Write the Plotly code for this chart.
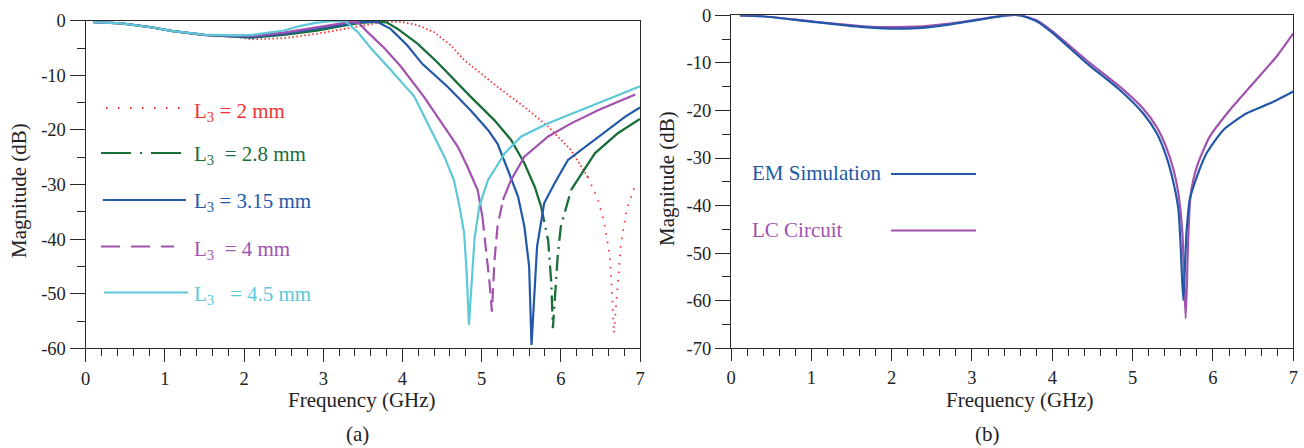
import numpy as np
import plotly.graph_objects as go

W, H = 1304, 448

# ---------------- data: panel (a) ----------------
f_2mm = [0.1, 0.45, 0.8, 1.1, 1.5, 1.9, 2.1, 2.5, 2.92, 3.26, 3.56, 3.77, 3.98, 4.19, 4.40, 4.61, 4.78,
         5.20, 5.54, 5.84, 6.13, 6.34, 6.47, 6.55, 6.62, 6.65, 6.67, 6.72, 6.76, 6.83, 6.94]
db_2mm = [-0.25, -0.5, -1.15, -1.9, -2.7, -3.0, -3.4, -3.2, -2.4, -1.5, -0.8, -0.2, -0.2, -0.8, -2.1, -4.5, -7.2,
          -12.1, -15.8, -19.4, -23.7, -28.6, -32.8, -37.1, -43.2, -51.0, -57.3, -48.1, -40.8, -34.7, -30.1]

f_28mm = [0.1, 0.45, 0.8, 1.1, 1.5, 1.9, 2.1, 2.5, 2.92, 3.26, 3.47, 3.68, 3.8, 3.94, 4.19, 4.44, 4.57, 4.86,
          5.16, 5.37, 5.54, 5.67, 5.75, 5.84, 5.88, 5.90, 5.96, 6.00, 6.13, 6.43, 6.72, 7.0]
db_28mm = [-0.25, -0.5, -1.15, -1.9, -2.6, -2.9, -3.1, -2.6, -1.8, -0.9, -0.4, -0.2, -0.3, -1.5, -4.2, -7.6, -9.6, -13.9,
           -18.2, -21.8, -26.1, -30.4, -34.0, -40.2, -48.1, -56.3, -43.2, -37.7, -31.0, -24.3, -20.6, -18.0]

f_315mm = [0.1, 0.45, 0.8, 1.1, 1.5, 1.9, 2.1, 2.5, 2.92, 3.26, 3.47, 3.68, 3.85, 4.06, 4.25, 4.57, 4.86, 5.08,
           5.20, 5.33, 5.46, 5.54, 5.60, 5.63, 5.67, 5.70, 5.79, 5.92, 6.09, 6.43, 6.81, 7.0]
db_315mm = [-0.25, -0.5, -1.15, -1.9, -2.6, -2.85, -3.0, -2.4, -1.5, -0.7, -0.2, -0.2, -1.5, -4.5, -7.9, -12.1, -16.4, -20.0,
            -22.5, -27.3, -32.2, -37.7, -45.0, -59.4, -48.1, -41.4, -33.4, -29.8, -25.5, -21.8, -17.6, -15.9]

f_4mm = [0.1, 0.45, 0.8, 1.1, 1.5, 1.9, 2.1, 2.5, 2.92, 3.22, 3.35, 3.45, 3.56, 3.77, 3.98, 4.27, 4.53, 4.70,
         4.82, 4.95, 5.01, 5.05, 5.10, 5.13, 5.16, 5.20, 5.27, 5.37, 5.54, 5.84, 6.13, 6.47, 6.94]
db_4mm = [-0.25, -0.5, -1.15, -1.9, -2.6, -2.8, -2.8, -2.2, -1.2, -0.4, -0.2, -0.4, -2.1, -5.0, -8.4, -13.9, -19.4, -23.1,
          -26.7, -31.0, -35.9, -40.8, -48.0, -53.3, -44.4, -37.7, -32.8, -29.2, -24.9, -21.2, -18.8, -16.4, -13.5]

f_45mm = [0.1, 0.45, 0.8, 1.1, 1.5, 1.9, 2.1, 2.5, 2.7, 2.9, 3.1, 3.28, 3.43, 3.6, 3.85, 4.15, 4.36, 4.53,
          4.65, 4.72, 4.78, 4.81, 4.84, 4.88, 4.91, 4.97, 5.08, 5.29, 5.5, 5.84, 6.26, 6.68, 7.0]
db_45mm = [-0.25, -0.5, -1.15, -1.9, -2.55, -2.7, -2.6, -1.8, -1.0, -0.4, -0.1, -0.1, -2.0, -5.0, -9.0, -13.9, -20.0, -24.9,
           -29.2, -34.0, -39.0, -46.0, -55.7, -46.0, -40.0, -34.0, -29.2, -24.3, -21.2, -18.8, -16.4, -13.9, -12.0]

labels_a = ["L<sub>3</sub> = 2 mm", "L<sub>3</sub>  = 2.8 mm", "L<sub>3</sub> = 3.15 mm",
            "L<sub>3</sub>  = 4 mm", "L<sub>3</sub>   = 4.5 mm"]

# ---------------- data: panel (b) ----------------
f_em = [0.11, 0.4, 1.02, 1.65, 1.98, 2.31, 2.69, 3.1, 3.43, 3.6, 3.81, 4.01, 4.43, 4.84, 5.13, 5.30, 5.42, 5.51,
        5.57, 5.60, 5.63, 5.67, 5.71, 5.80, 5.92, 6.13, 6.42, 6.71, 7.0]
db_em = [0, -0.2, -1.4, -2.5, -2.8, -2.7, -2.0, -0.9, 0, 0, -1.3, -3.8, -10.1, -15.7, -20.6, -24.8, -29.7, -35.3,
         -40.9, -49.3, -59.9, -45.8, -38.8, -33.9, -29.0, -24.1, -20.6, -18.5, -16.0]

f_lc = [0.11, 0.4, 1.02, 1.65, 1.98, 2.31, 2.69, 3.1, 3.43, 3.6, 3.81, 4.01, 4.43, 4.84, 5.13, 5.30, 5.42, 5.51,
        5.57, 5.62, 5.66, 5.69, 5.72, 5.80, 5.96, 6.21, 6.50, 6.79, 7.0]
db_lc = [0, -0.2, -1.3, -2.3, -2.5, -2.4, -1.8, -0.8, 0, 0, -1.1, -3.5, -9.5, -15.0, -19.6, -23.5, -27.8, -32.5,
         -37.5, -46.0, -63.7, -48.0, -38.0, -31.8, -25.5, -19.9, -14.3, -8.7, -3.8]

labels_b = ["EM Simulation", "LC Circuit"]

# ticks
x_ticks = [0, 1, 2, 3, 4, 5, 6, 7]
x_ticktext = ["0", "1", "2", "3", "4", "5", "6", "7"]
ya_ticks = [0, -10, -20, -30, -40, -50, -60]
ya_ticktext = ["0", "-10", "-20", "-30", "-40", "-50", "-60"]
yb_ticks = [0, -10, -20, -30, -40, -50, -60, -70]
yb_ticktext = ["0", "-10", "-20", "-30", "-40", "-50", "-60", "-70"]

# ---------------- styling ----------------
C_RED = "#ee3434"
C_GREEN = "#1a6e38"
C_BLUE = "#2258a8"
C_PURPLE = "#a052ae"
C_CYAN = "#5cc8d8"
FONT = "Liberation Serif"
AX = "#2a2a2a"


def px(x):
    return x / W


def py(y):
    return 1 - y / H


def split(f, d, thr):
    """Return (solid_y, dip_y) arrays: dip part where values fall below thr."""
    d = np.asarray(d, dtype=float)
    idx = np.where(d < thr)[0]
    a, b = idx[0], min(idx[-1] + 1, len(d) - 1)
    solid = d.copy()
    solid[a + 1:b] = np.nan
    dip = np.full_like(d, np.nan)
    dip[a:b + 1] = d[a:b + 1]
    return solid, dip


fig = go.Figure()

# panel (a) curves
red_up, red_dip = split(f_2mm, db_2mm, -25)
fig.add_trace(go.Scatter(x=f_2mm, y=red_up, mode="lines", xaxis="x", yaxis="y",
                         line=dict(color=C_RED, width=1.8, dash="1.5px,2.5px"), showlegend=False))
fig.add_trace(go.Scatter(x=f_2mm, y=red_dip, mode="lines", xaxis="x", yaxis="y",
                         line=dict(color=C_RED, width=1.8, dash="1.5px,7px"), showlegend=False))

g_solid, g_dip = split(f_28mm, db_28mm, -33)
fig.add_trace(go.Scatter(x=f_28mm, y=g_solid, mode="lines", xaxis="x", yaxis="y",
                         line=dict(color=C_GREEN, width=2.3), showlegend=False))
fig.add_trace(go.Scatter(x=f_28mm, y=g_dip, mode="lines", xaxis="x", yaxis="y",
                         line=dict(color=C_GREEN, width=2.3, dash="16px,6px,2px,6px"), showlegend=False))

fig.add_trace(go.Scatter(x=f_315mm, y=db_315mm, mode="lines", xaxis="x", yaxis="y",
                         line=dict(color=C_BLUE, width=2.2), showlegend=False))

p_solid, p_dip = split(f_4mm, db_4mm, -35)
fig.add_trace(go.Scatter(x=f_4mm, y=p_solid, mode="lines", xaxis="x", yaxis="y",
                         line=dict(color=C_PURPLE, width=2.2), showlegend=False))
fig.add_trace(go.Scatter(x=f_4mm, y=p_dip, mode="lines", xaxis="x", yaxis="y",
                         line=dict(color=C_PURPLE, width=2.2, dash="14px,7px"), showlegend=False))

fig.add_trace(go.Scatter(x=f_45mm, y=db_45mm, mode="lines", xaxis="x", yaxis="y",
                         line=dict(color=C_CYAN, width=2.2), showlegend=False))

# panel (b) curves
fig.add_trace(go.Scatter(x=f_lc, y=db_lc, mode="lines", xaxis="x2", yaxis="y2",
                         line=dict(color=C_PURPLE, width=2.2, shape="spline", smoothing=0.6), showlegend=False))
fig.add_trace(go.Scatter(x=f_em, y=db_em, mode="lines", xaxis="x2", yaxis="y2",
                         line=dict(color=C_BLUE, width=2.2, shape="spline", smoothing=0.6), showlegend=False))

tickfont = dict(family=FONT, size=18.5, color="#222")
common_x = dict(range=[0, 7], tickmode="array", tickvals=x_ticks, ticktext=x_ticktext,
                ticks="outside", tickcolor=AX, tickwidth=1.2, showline=True, linecolor=AX,
                linewidth=1.3, mirror=True, showgrid=False, zeroline=False, tickfont=tickfont,
                automargin=False,
                minor=dict(tickmode="linear", tick0=0, dtick=0.2, ticks="outside", ticklen=7,
                           tickcolor=AX, tickwidth=1.2))
common_y = dict(tickmode="array", ticks="outside", tickcolor=AX, tickwidth=1.2, ticklen=15,
                showline=True, linecolor=AX, linewidth=1.3, mirror=True, showgrid=False,
                zeroline=False, tickfont=tickfont, automargin=False,
                minor=dict(tickmode="linear", tick0=0, dtick=5, ticks="outside", ticklen=8,
                           tickcolor=AX, tickwidth=1.2))

fig.update_layout(
    width=W, height=H, margin=dict(l=0, r=0, t=0, b=0, autoexpand=False),
    paper_bgcolor="white", plot_bgcolor="white", showlegend=False,
    xaxis=dict(domain=[px(85.7), px(640)], anchor="y", ticklen=13, **common_x),
    yaxis=dict(domain=[py(348.3), py(20.7)], anchor="x", range=[-60, 0],
               tickvals=ya_ticks, ticktext=ya_ticktext, **common_y),
    xaxis2=dict(domain=[px(731), px(1293.3)], anchor="y2", ticklen=12, **common_x),
    yaxis2=dict(domain=[py(348.3), py(15.3)], anchor="x2", range=[-70, 0],
                tickvals=yb_ticks, ticktext=yb_ticktext, **common_y),
)

annots = []
tfont = dict(family=FONT, size=21, color="#222")
annots.append(dict(text="Frequency (GHz)", x=px(362), y=py(400), xref="paper", yref="paper",
                   showarrow=False, font=tfont, xanchor="center", yanchor="middle"))
annots.append(dict(text="Frequency (GHz)", x=px(1020), y=py(400), xref="paper", yref="paper",
                   showarrow=False, font=tfont, xanchor="center", yanchor="middle"))
annots.append(dict(text="(a)", x=px(357.5), y=py(434), xref="paper", yref="paper",
                   showarrow=False, font=tfont, xanchor="center", yanchor="middle"))
annots.append(dict(text="(b)", x=px(987), y=py(434), xref="paper", yref="paper",
                   showarrow=False, font=tfont, xanchor="center", yanchor="middle"))
annots.append(dict(text="Magnitude (dB)", x=px(19), y=py(191), xref="paper", yref="paper",
                   showarrow=False, font=tfont, textangle=-90, xanchor="center", yanchor="middle"))
annots.append(dict(text="Magnitude (dB)", x=px(667), y=py(179), xref="paper", yref="paper",
                   showarrow=False, font=tfont, textangle=-90, xanchor="center", yanchor="middle"))

# legend (a)
leg_a_colors = [C_RED, C_GREEN, C_BLUE, C_PURPLE, C_CYAN]
leg_a_dash = ["1.5px,10.5px", "30px,9px,2px,9px", "solid", "19px,11px", "solid"]
leg_a_liney = [108, 153, 200, 246.5, 292.5]
leg_a_linex = [(106, 188), (101, 184), (103, 186), (101, 174), (104, 188)]
leg_a_texty = [112, 154.5, 202, 249.5, 295]
shapes = []
for lab, col, dsh, ly, (x0, x1), ty in zip(labels_a, leg_a_colors, leg_a_dash, leg_a_liney,
                                            leg_a_linex, leg_a_texty):
    shapes.append(dict(type="line", xref="paper", yref="paper", x0=px(x0), x1=px(x1),
                       y0=py(ly), y1=py(ly), line=dict(color=col, width=2, dash=dsh)))
    annots.append(dict(text=lab, x=px(191.5), y=py(ty), xref="paper", yref="paper", showarrow=False,
                       font=dict(family=FONT, size=21, color=col), xanchor="left", yanchor="middle"))

# legend (b)
leg_b_colors = [C_BLUE, C_PURPLE]
leg_b_y = [174, 230.5]
for lab, col, ly in zip(labels_b, leg_b_colors, leg_b_y):
    shapes.append(dict(type="line", xref="paper", yref="paper", x0=px(891), x1=px(976),
                       y0=py(ly), y1=py(ly), line=dict(color=col, width=2)))
    annots.append(dict(text=lab, x=px(750), y=py(ly - 1), xref="paper", yref="paper", showarrow=False,
                       font=dict(family=FONT, size=21, color=col), xanchor="left", yanchor="middle"))

fig.update_layout(annotations=annots, shapes=shapes)
fig.write_html("out.html", config={"displayModeBar": False},
               post_script="document.body.style.margin='0';document.body.style.padding='0';"
                           "document.body.style.overflow='hidden';")
